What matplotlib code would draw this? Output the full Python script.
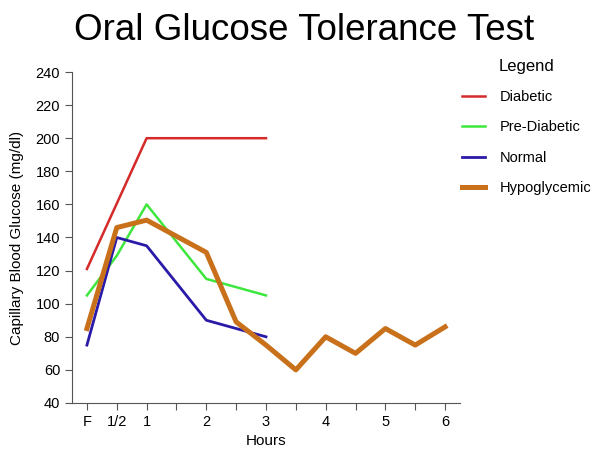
import matplotlib
matplotlib.use('Agg')
import matplotlib.pyplot as plt

plt.rcParams['font.family'] = ['Liberation Sans', 'DejaVu Sans']

# hours after drinking the glucose (F = fasting = 0)
diabetic_hours = [0, 1, 3]
diabetic_vals = [121, 200, 200]

prediabetic_hours = [0, 0.5, 1, 2, 3]
prediabetic_vals = [105, 129, 160, 115, 105]

normal_hours = [0, 0.5, 1, 2, 3]
normal_vals = [75, 140, 135, 90, 80]

hypo_hours = [0, 0.5, 1, 2, 2.5, 3, 3.5, 4, 4.5, 5, 5.5, 6]
hypo_vals = [85, 146, 150.5, 131, 89, 75, 60, 80, 70, 85, 75, 86]

x_ticks = [0, 0.5, 1, 2, 3, 4, 5, 6]
x_labels = ['F', '1/2', '1', '2', '3', '4', '5', '6']
x_minor = [1.5, 2.5, 3.5, 4.5, 5.5]
y_ticks = list(range(40, 241, 20))

fig = plt.figure(figsize=(6, 4.58), dpi=100)
ax = fig.add_axes([72 / 600, 1 - 403 / 458, (460 - 72) / 600, (403 - 72) / 458])

ax.plot(diabetic_hours, diabetic_vals, color='#d42a2a', lw=1.8, label='Diabetic')
ax.plot(prediabetic_hours, prediabetic_vals, color='#3ee63e', lw=1.8, label='Pre-Diabetic')
ax.plot(normal_hours, normal_vals, color='#2a1aa8', lw=2.0, label='Normal')
ax.plot(hypo_hours, hypo_vals, color='#c8701a', lw=3.6, label='Hypoglycemic')

ax.set_xlim(-0.25, 6.25)
ax.set_ylim(40, 240)
ax.set_xticks(x_ticks)
ax.set_xticklabels(x_labels)
ax.set_xticks(x_minor, minor=True)
ax.set_yticks(y_ticks)
ax.tick_params(axis='both', which='both', direction='out', color='#555555',
               labelsize=10.5, width=0.8)
ax.tick_params(axis='both', which='major', length=5)
ax.tick_params(axis='x', which='minor', length=5)
for side in ['top', 'right']:
    ax.spines[side].set_visible(False)
for side in ['left', 'bottom']:
    ax.spines[side].set_color('#555555')
    ax.spines[side].set_linewidth(0.8)

ax.set_xlabel('Hours', fontsize=11, labelpad=4)
ax.set_ylabel('Capillary Blood Glucose (mg/dl)', fontsize=11, labelpad=8)

fig.text(304 / 600, 1 - 30 / 458, 'Oral Glucose Tolerance Test', ha='center', va='center',
         fontsize=26.5)

leg = fig.legend(loc='upper left', bbox_to_anchor=(449 / 600, 1 - 45.5 / 458),
                 frameon=False, title='Legend', fontsize=10.5, title_fontsize=12,
                 handlelength=1.6, labelspacing=1.12, handletextpad=1.0)

fig.savefig('out.png', dpi=100)
